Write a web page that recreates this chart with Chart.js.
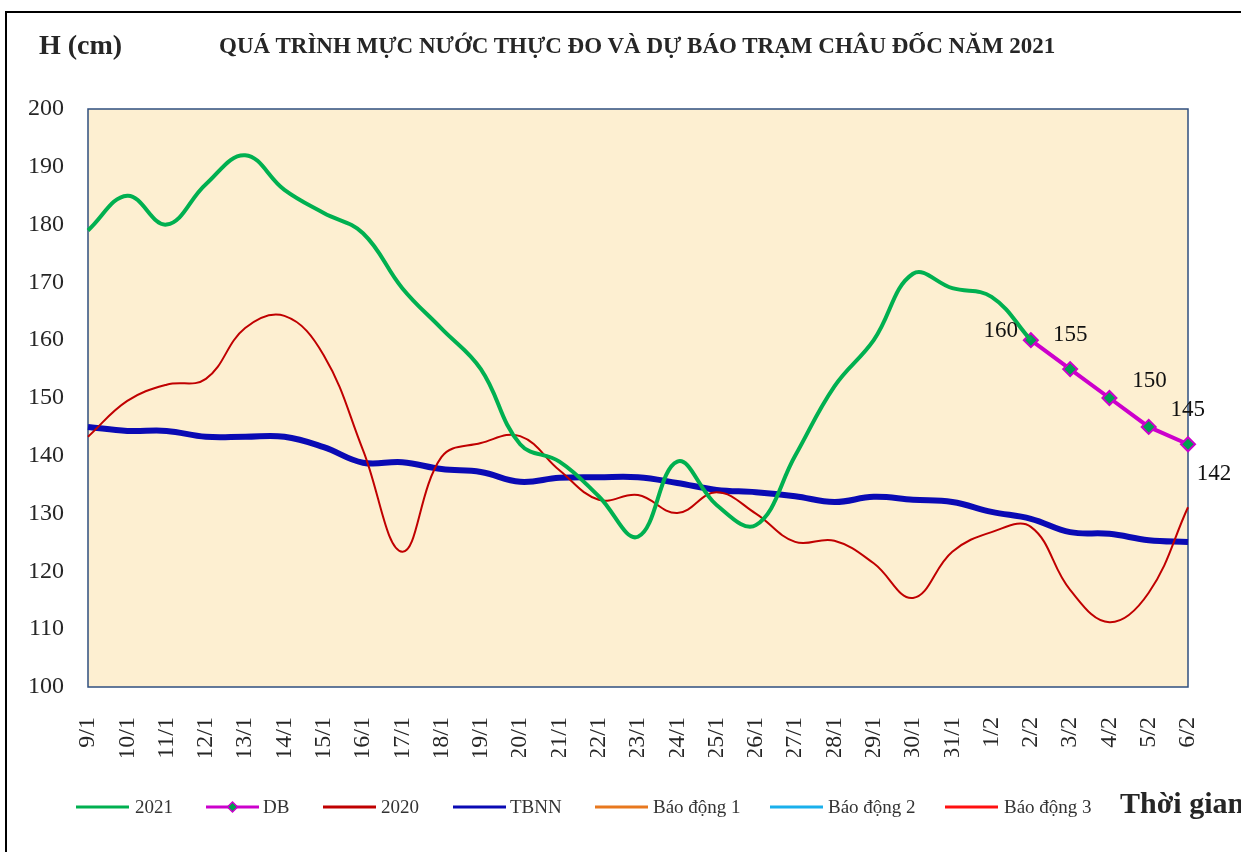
<!DOCTYPE html>
<html><head><meta charset="utf-8">
<script src="https://cdn.jsdelivr.net/npm/chart.js@4.4.1/dist/chart.umd.min.js"></script>
<style>
html,body{margin:0;padding:0;background:#fff;}
#wrap{position:relative;width:1241px;height:852px;overflow:hidden;background:#fff;}
#frame{position:absolute;left:5px;top:11px;width:1300px;height:900px;border-left:2px solid #000;border-top:2px solid #000;box-sizing:border-box;}
#ylab{position:absolute;left:39px;top:29px;font:bold 28px "Liberation Serif",serif;color:#262626;white-space:nowrap;}
#title{position:absolute;left:219px;top:33px;font:bold 23px "Liberation Serif",serif;color:#262626;white-space:nowrap;}
#xlab{position:absolute;left:1120px;top:786px;font:bold 30px "Liberation Serif",serif;color:#262626;white-space:nowrap;}
canvas{position:absolute;left:0;top:0;}
</style></head>
<body><div id="wrap">
<div id="frame"></div>
<canvas id="c" width="1241" height="852"></canvas>
<div id="ylab">H (cm)</div>
<div id="title">QUÁ TRÌNH MỰC NƯỚC THỰC ĐO VÀ DỰ BÁO TRẠM CHÂU ĐỐC NĂM 2021</div>
<div id="xlab">Thời gian</div>
</div>
<script>
const categories = ["9/1","10/1","11/1","12/1","13/1","14/1","15/1","16/1","17/1","18/1","19/1","20/1","21/1","22/1","23/1","24/1","25/1","26/1","27/1","28/1","29/1","30/1","31/1","1/2","2/2","3/2","4/2","5/2","6/2"];
const y2021 = [179,185,180,187,192,186,182,178.5,169,162,155,142,139,133,126,139,131.5,128,140,152,160,171.5,169,167.5,160,null,null,null,null];
const yDB = [null,null,null,null,null,null,null,null,null,null,null,null,null,null,null,null,null,null,null,null,null,null,null,null,160,155,150,145,142];
const y2020 = [143.3,149.5,152.3,153.3,162.1,164.2,157.4,141,123.4,139.8,142.2,143.4,137.5,132.4,133.2,130.1,133.7,130,125.1,125.3,121.4,115.4,123.4,126.8,127.7,116.8,111.2,116.3,131.1];
const yTBNN = [145,144.3,144.3,143.3,143.3,143.3,141.5,138.8,138.9,137.7,137.2,135.5,136.2,136.3,136.3,135.3,134.1,133.7,133,132,132.9,132.4,132,130.3,129.1,126.8,126.5,125.4,125.1];
const yBD1 = [];
const yBD2 = [];
const yBD3 = [];
const yTicks = [100,110,120,130,140,150,160,170,180,190,200];

const SERIF = '"Liberation Serif", "Times New Roman", serif';
const labelOffsets = [[-30,-9],[0,-34],[40,-17],[39,-17],[26,30]];
const legendPos = [[76,135],[206,263],[323,381],[453,510],[595,653],[770,828],[945,1004]];

const bgPlugin = {
  id:'bg',
  beforeDraw(chart){
    const {ctx, chartArea:a} = chart;
    ctx.save(); ctx.fillStyle='#FDEFD1'; ctx.fillRect(a.left,a.top,a.right-a.left,a.bottom-a.top); ctx.restore();
  },
  beforeDatasetsDraw(chart){
    const {ctx, chartArea:a} = chart;
    ctx.save(); ctx.strokeStyle='#2F4F7F'; ctx.lineWidth=1.5;
    ctx.strokeRect(a.left,a.top,a.right-a.left,a.bottom-a.top); ctx.restore();
  },
  afterDatasetsDraw(chart){
    const {ctx} = chart;
    const meta = chart.getDatasetMeta(1);
    ctx.save(); ctx.fillStyle='#111'; ctx.font='23px '+SERIF; ctx.textAlign='center'; ctx.textBaseline='middle';
    let k=0;
    meta.data.forEach((pt,i)=>{
      const v = yDB[i]; if(v==null) return;
      const o = labelOffsets[k++]||[0,-20];
      ctx.fillText(String(v), pt.x+o[0], pt.y+o[1]);
    });
    ctx.restore();
  },
  afterDraw(chart){
    const {ctx} = chart;
    const y = 807;
    ctx.save();
    chart.data.datasets.forEach((ds,i)=>{
      const [lx,tx] = legendPos[i];
      const len = 53;
      ctx.strokeStyle = ds.borderColor; ctx.lineWidth = 3;
      ctx.beginPath(); ctx.moveTo(lx,y); ctx.lineTo(lx+len,y); ctx.stroke();
      if(ds.pointStyle==='rectRot' && ds.pointRadius>0){
        ctx.fillStyle=ds.pointBackgroundColor; ctx.strokeStyle=ds.pointBorderColor; ctx.lineWidth=1.5;
        const cx=lx+len/2, r=5;
        ctx.beginPath(); ctx.moveTo(cx,y-r); ctx.lineTo(cx+r,y); ctx.lineTo(cx,y+r); ctx.lineTo(cx-r,y); ctx.closePath(); ctx.fill(); ctx.stroke();
      }
      ctx.fillStyle='#333'; ctx.font='19px '+SERIF; ctx.textAlign='left'; ctx.textBaseline='middle';
      ctx.fillText(ds.label, tx, y+1);
    });
    ctx.restore();
  }
};

new Chart(document.getElementById('c'), {
  type:'line',
  data:{
    labels: categories,
    datasets:[
      {label:'2021', data:y2021, borderColor:'#00B050', backgroundColor:'#00B050', borderWidth:4, pointRadius:0, tension:0.4, spanGaps:false},
      {label:'DB', data:yDB, borderColor:'#CC00CC', backgroundColor:'#00A050', borderWidth:4, pointStyle:'rectRot', pointRadius:7, pointHoverRadius:7, pointBackgroundColor:'#00A050', pointBorderColor:'#CC00CC', pointBorderWidth:2, tension:0},
      {label:'2020', data:y2020, borderColor:'#C00000', backgroundColor:'#C00000', borderWidth:2, pointRadius:0, tension:0.4},
      {label:'TBNN', data:yTBNN, borderColor:'#0A0AB4', backgroundColor:'#0A0AB4', borderWidth:6, pointRadius:0, tension:0.4},
      {label:'Báo động 1', data:yBD1, borderColor:'#E8781E', backgroundColor:'#E8781E', borderWidth:2, pointRadius:0},
      {label:'Báo động 2', data:yBD2, borderColor:'#1AB0EC', backgroundColor:'#1AB0EC', borderWidth:2, pointRadius:0},
      {label:'Báo động 3', data:yBD3, borderColor:'#FF1010', backgroundColor:'#FF1010', borderWidth:2, pointRadius:0}
    ]
  },
  options:{
    responsive:false, animation:false, devicePixelRatio:1,
    layout:{padding:{left:0,right:53,top:109,bottom:95}},
    plugins:{legend:{display:false}, title:{display:false}, tooltip:{enabled:false}},
    scales:{
      x:{
        type:'category', offset:false,
        grid:{display:false, drawTicks:false},
        border:{display:false},
        ticks:{autoSkip:false, minRotation:90, maxRotation:90, padding:30, color:'#262626', font:{family:SERIF, size:24}},
        afterFit(s){ s.height = 70; s.paddingRight = 0; s.paddingLeft = 0; }
      },
      y:{
        min:100, max:200,
        grid:{display:false, drawTicks:false},
        border:{display:false},
        afterBuildTicks(s){ s.ticks = yTicks.map(v=>({value:v})); },
        ticks:{padding:24, color:'#262626', font:{family:SERIF, size:24}},
        afterFit(s){ s.width = 88; }
      }
    }
  },
  plugins:[bgPlugin]
});
</script>
</body></html>
